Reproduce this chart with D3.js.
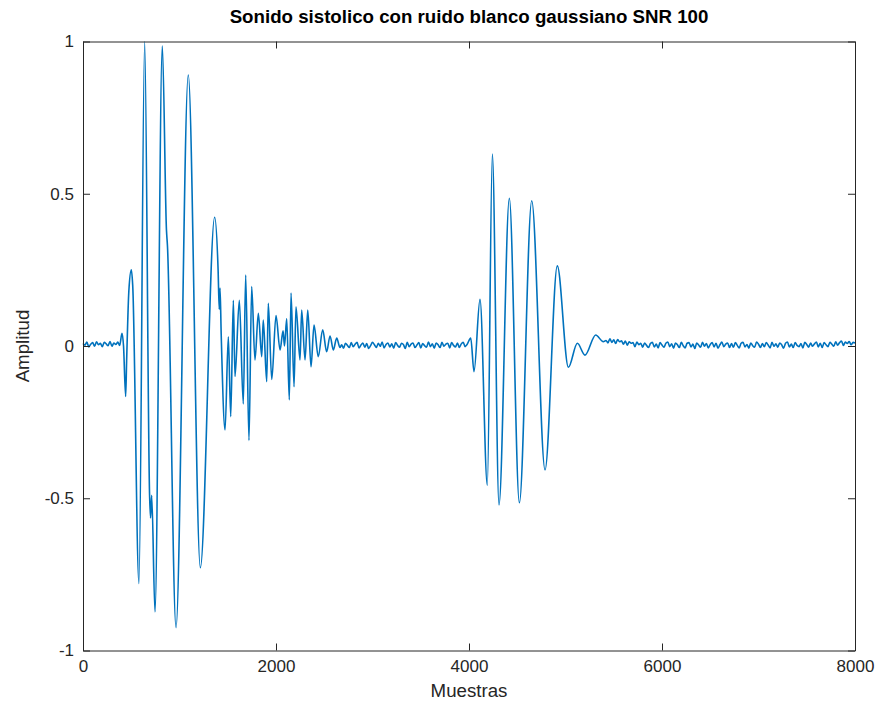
<!DOCTYPE html>
<html>
<head>
<meta charset="utf-8">
<script src="https://cdn.jsdelivr.net/npm/d3@7"></script>
<style>
    body { margin: 0; background: #fff; }
    text { font-family: "Liberation Sans", Arial, Helvetica, sans-serif; fill: #262626; }
</style>
</head>
<body>
<svg id="chart" width="880" height="706"></svg>
<script>
// axis ticks
const xTicks = [0, 2000, 4000, 6000, 8000];
const yTicks = [-1, -0.5, 0, 0.5, 1];
const yTickLabels = ["-1", "-0.5", "0", "0.5", "1"];

// baseline noise, one value every sampleStep samples
const sampleStep = 20;
const noiseAStart = 0;
const noiseA = [0.008,0.003,0.013,-0.003,0.006,0.011,-0.001,0.014,0.004,0.009,
    -0.002,0.012,0.007,0.001,0.015,-0.001,0.010,0.005,0.013,0.002];
const noiseBStart = 2680;
const noiseB = [0.004,-0.007,0.009,0.002,-0.005,0.011,-0.002,0.006,0.012,-0.006,
    0.003,0.010,-0.004,0.008,-0.008,0.001,0.012,0.004,-0.005,0.009,
    -0.001,0.013,-0.006,0.005,0.010,-0.003,0.007,-0.007,0.011,0.002,
    -0.004,0.009,0.005,-0.008,0.012,-0.002,0.006,0.010,-0.005,0.003,
    0.011,-0.006,0.008,0.001,-0.004,0.013,-0.002,0.007,-0.007,0.010,
    0.004,-0.005,0.012,-0.001,0.006,0.009,-0.006,0.011,0.002,-0.003,
    0.010,-0.005,0.007,0.012,-0.002,0.005];
const noiseCStart = 5420;
const noiseC = [0.018,0.010,0.024,0.012,0.020,0.008,0.021,0.014,0.017,0.006,
    0.016,0.003,0.014,0.009,0.011,-0.002,0.013,0.004,0.009,-0.004,
    0.010,0.002,-0.005,0.008,0.012,-0.003,0.006,-0.006,0.011,0.003,
    -0.004,0.009,0.013,-0.002,0.007,-0.007,0.010,0.004,-0.005,0.012,
    0.001,-0.006,0.009,0.011,-0.003,0.006,-0.008,0.010,0.003,-0.004,
    0.012,-0.001,0.008,-0.006,0.005,0.011,-0.003,0.009,-0.007,0.004,
    0.013,-0.002,0.006,0.010,-0.005,0.008,-0.004,0.011,0.002,-0.006,
    0.009,0.012,-0.003,0.005,-0.007,0.010,0.001,-0.004,0.013,0.006,
    -0.005,0.008,-0.002,0.011,0.003,-0.006,0.012,-0.001,0.007,-0.004,
    0.010,0.004,-0.007,0.009,0.013,-0.003,0.006,-0.005,0.011,0.002,
    -0.002,0.008,-0.006,0.012,0.005,-0.004,0.010,-0.001,0.007,0.013,
    -0.003,0.009,-0.005,0.011,0.004,-0.002,0.012,0.006,-0.001,0.014,
    0.003,0.011,0.016,0.002,0.013,0.008,0.015,0.004,0.012,0.010];

// first sound (S1), peaks and troughs
const s1Samples = [404,420,442,452,475,501,515,580,639,690,
    700,712,746,822,865,875,964,1091,1216,1364,
    1400,1412,1420,1432,1472,1506,1531,1558,1575,1620,
    1661,1686,1720,1748,1782,1817,1852,1868,1904,1920,
    1956,2000,2042,2073,2088,2111,2138,2156,2187,2207,
    2249,2266,2301,2329,2363,2394,2438,2484,2525,2560,
    2594,2629,2663];
const s1Values = [0.042,0.0,-0.166,-0.05,0.18,0.25,0.2,-0.78,1.0,-0.49,
    -0.565,-0.49,-0.873,0.985,0.38,0.33,-0.925,0.89,-0.728,0.423,
    0.25,0.12,0.19,0.04,-0.276,0.03,-0.232,0.15,-0.10,0.15,
    -0.19,0.233,-0.31,0.195,-0.046,0.107,-0.035,0.085,-0.117,0.14,
    -0.11,0.10,-0.013,0.05,0.0,0.09,-0.177,0.174,-0.134,0.129,
    -0.046,0.118,-0.046,0.118,-0.068,0.069,-0.035,0.053,-0.019,0.033,
    -0.013,0.026,-0.005];

// second sound (S2)
const s2Samples = [4018,4052,4114,4190,4242,4311,4418,4522,4650,4788,4915,5030,5123,5202,5313,5392];
const s2Values = [0.026,-0.084,0.153,-0.457,0.63,-0.522,0.485,-0.515,0.477,-0.407,0.263,-0.07,0.009,-0.03,0.036,0.014];

// building the series
const noisePoints = (start, values) => values.map((v, i) => [start + i * sampleStep, v]);
const keyPoints = (samples, values) => samples.map((s, i) => [s, values[i]]);

const signal = [].concat(
    noisePoints(noiseAStart, noiseA),
    keyPoints(s1Samples, s1Values),
    noisePoints(noiseBStart, noiseB),
    keyPoints(s2Samples, s2Values),
    noisePoints(noiseCStart, noiseC)
);

// chart stuff
const svg = d3.select("#chart");
const plotLeft = 83, plotRight = 855, plotTop = 41.5, plotBottom = 650.5;

const x = d3.scaleLinear().domain([0, 8000]).range([plotLeft, plotRight]);
const y = d3.scaleLinear().domain([-1, 1]).range([plotBottom, plotTop]);

svg.append("rect").attr("width", 880).attr("height", 706).attr("fill", "#fff");

const line = d3.line()
    .x(d => x(d[0]))
    .y(d => y(d[1]))
    .curve(d3.curveMonotoneX);

svg.append("path")
    .datum(signal)
    .attr("fill", "none")
    .attr("stroke", "#0072BD")
    .attr("stroke-width", 1.6)
    .attr("stroke-linejoin", "round")
    .attr("d", line);

// axes, ticks point inwards on all four sides
const tickLen = 7;
const styleAxis = (g) => {
    g.selectAll(".domain").attr("stroke", "#262626").attr("stroke-width", 1);
    g.selectAll(".tick line").attr("stroke", "#262626").attr("stroke-width", 1);
    g.selectAll(".tick text").style("font-size", "17px").attr("fill", "#262626");
};

svg.append("g")
    .attr("transform", `translate(0,${plotBottom})`)
    .call(d3.axisBottom(x).tickValues(xTicks).tickFormat(d3.format("d"))
        .tickSizeInner(-tickLen).tickSizeOuter(0).tickPadding(9))
    .call(styleAxis);

svg.append("g")
    .attr("transform", `translate(0,${plotTop})`)
    .call(d3.axisTop(x).tickValues(xTicks).tickFormat("")
        .tickSizeInner(-tickLen).tickSizeOuter(0))
    .call(styleAxis);

svg.append("g")
    .attr("transform", `translate(${plotLeft},0)`)
    .call(d3.axisLeft(y).tickValues(yTicks).tickFormat((d, i) => yTickLabels[i])
        .tickSizeInner(-tickLen).tickSizeOuter(0).tickPadding(9))
    .call(styleAxis);

svg.append("g")
    .attr("transform", `translate(${plotRight},0)`)
    .call(d3.axisRight(y).tickValues(yTicks).tickFormat("")
        .tickSizeInner(-tickLen).tickSizeOuter(0))
    .call(styleAxis);

// title and labels
svg.append("text")
    .attr("x", (plotLeft + plotRight) / 2)
    .attr("y", 23)
    .attr("text-anchor", "middle")
    .style("font-size", "18.7px")
    .style("font-weight", "bold")
    .style("fill", "#000")
    .text("Sonido sistolico con ruido blanco gaussiano SNR 100");

svg.append("text")
    .attr("x", (plotLeft + plotRight) / 2)
    .attr("y", 697)
    .attr("text-anchor", "middle")
    .style("font-size", "18.7px")
    .text("Muestras");

svg.append("text")
    .attr("transform", `translate(29,${(plotTop + plotBottom) / 2}) rotate(-90)`)
    .attr("text-anchor", "middle")
    .style("font-size", "18.7px")
    .text("Amplitud");
</script>
</body>
</html>
